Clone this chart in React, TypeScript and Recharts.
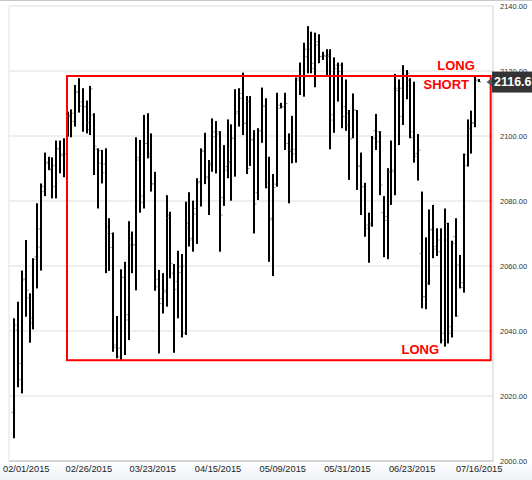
import React from 'react'
import {
  ComposedChart,
  Bar,
  XAxis,
  YAxis,
  CartesianGrid,
  ReferenceArea,
  ReferenceLine,
  ReferenceDot,
} from 'recharts'

// daily OHLC (left to right)
const highs = [
  2043.9, 2049.0, 2058.6, 2068.0, 2051.6, 2062.4, 2079.3, 2085.4, 2094.9, 2093.6,
  2093.4, 2098.6, 2098.6, 2099.3, 2107.5, 2108.2, 2115.7, 2117.8, 2114.7, 2110.9,
  2115.4, 2107.0, 2096.2, 2095.7, 2096.2, 2074.7, 2070.3, 2044.6, 2059.0, 2061.3,
  2073.8, 2070.6, 2099.6, 2098.8, 2106.5, 2107.0, 2100.8, 2089.0, 2058.8, 2057.8,
  2081.8, 2076.7, 2060.6, 2064.7, 2063.7, 2079.8, 2082.7, 2080.1, 2087.0, 2096.2,
  2101.0, 2092.6, 2105.4, 2104.6, 2101.5, 2097.2, 2105.1, 2103.6, 2114.4, 2114.7,
  2119.5, 2112.3, 2112.3, 2101.8, 2102.4, 2114.9, 2111.6, 2093.6, 2088.3, 2113.3,
  2110.2, 2113.3, 2100.8, 2106.2, 2118.0, 2122.6, 2128.7, 2133.8, 2132.1, 2131.8,
  2131.3, 2125.9, 2126.7, 2126.7, 2124.2, 2122.6, 2122.6, 2117.4, 2108.0, 2113.1,
  2108.0, 2094.9, 2085.6, 2076.4, 2100.0, 2106.8, 2101.5, 2081.5, 2090.1, 2098.6,
  2119.1, 2117.4, 2121.8, 2120.3, 2117.8, 2116.7, 2100.6, 2082.9, 2068.8, 2077.4,
  2078.8, 2071.6, 2071.6, 2077.7, 2073.3, 2067.8, 2074.7, 2063.4, 2094.6, 2105.1,
  2107.8, 2118.5, 2117.5,
]
const lows = [
  2007.0, 2022.7, 2020.8, 2044.4, 2036.4, 2040.5, 2053.1, 2058.6, 2081.5, 2089.5,
  2080.8, 2080.8, 2088.5, 2087.3, 2099.8, 2099.6, 2102.9, 2107.2, 2101.3, 2100.8,
  2100.3, 2088.0, 2077.7, 2085.4, 2057.8, 2058.5, 2033.6, 2031.6, 2031.0, 2032.6,
  2037.2, 2057.8, 2052.5, 2076.4, 2077.7, 2093.1, 2082.9, 2052.4, 2033.1, 2045.4,
  2047.5, 2056.2, 2033.3, 2043.9, 2038.0, 2038.8, 2066.0, 2064.4, 2066.8, 2078.3,
  2085.2, 2075.7, 2089.0, 2088.5, 2064.4, 2078.5, 2087.0, 2080.1, 2087.5, 2102.9,
  2100.3, 2088.3, 2090.8, 2070.0, 2080.3, 2097.9, 2083.9, 2061.3, 2056.9, 2084.4,
  2108.5, 2095.7, 2079.3, 2091.6, 2091.8, 2112.6, 2112.1, 2119.3, 2119.3, 2115.0,
  2122.4, 2123.4, 2118.8, 2095.9, 2101.0, 2110.6, 2102.4, 2101.6, 2086.5, 2099.3,
  2083.4, 2075.7, 2069.0, 2061.0, 2072.1, 2095.7, 2081.8, 2062.7, 2062.1, 2078.8,
  2081.8, 2097.2, 2103.4, 2111.3, 2099.3, 2091.8, 2086.3, 2047.0, 2046.7, 2054.2,
  2062.4, 2063.1, 2036.2, 2035.2, 2036.2, 2038.0, 2044.4, 2053.1, 2051.8, 2090.6,
  2094.6, 2102.7, 2116.6,
]
const opens = [
  2015.0, 2040.3, 2025.0, 2056.0, 2050.2, 2044.0, 2062.8, 2071.4, 2082.9, 2092.0,
  2089.5, 2091.0, 2096.0, 2094.0, 2106.8, 2106.0, 2104.5, 2113.5, 2110.5, 2109.0,
  2104.1, 2106.5, 2096.0, 2091.6, 2091.4, 2070.0, 2070.0, 2035.7, 2034.7, 2056.5,
  2045.0, 2066.5, 2066.5, 2093.4, 2079.5, 2097.7, 2093.6, 2085.4, 2055.9, 2050.0,
  2052.0, 2074.7, 2057.8, 2055.2, 2058.0, 2039.3, 2071.6, 2068.5, 2077.7, 2086.0,
  2095.2, 2087.0, 2091.6, 2101.3, 2101.3, 2081.1, 2090.6, 2091.8, 2099.3, 2107.5,
  2113.1, 2103.9, 2110.6, 2098.8, 2082.6, 2101.6, 2109.2, 2085.6, 2074.7, 2085.2,
  2109.5, 2109.0, 2097.7, 2095.7, 2095.9, 2117.2, 2118.3, 2124.4, 2128.5, 2120.8,
  2129.0, 2124.5, 2124.5, 2124.4, 2106.5, 2121.8, 2121.8, 2109.0, 2103.4, 2099.3,
  2108.0, 2090.6, 2084.4, 2072.6, 2072.6, 2101.6, 2101.3, 2076.4, 2075.2, 2089.0,
  2089.0, 2114.0, 2106.0, 2118.5, 2117.2, 2101.3, 2094.6, 2063.9, 2050.6, 2054.7,
  2071.3, 2066.0, 2064.4, 2039.3, 2073.1, 2041.3, 2069.0, 2060.3, 2054.9, 2091.0,
  2102.4, 2103.9, 2117.3,
]
const closes = [
  2041.8, 2030.0, 2055.7, 2052.6, 2042.5, 2062.0, 2065.8, 2084.5, 2091.6, 2089.8,
  2084.4, 2096.2, 2094.5, 2094.5, 2106.2, 2107.0, 2113.5, 2109.2, 2109.0, 2102.0,
  2114.5, 2096.9, 2095.5, 2088.7, 2072.0, 2065.7, 2035.0, 2032.1, 2056.5, 2043.4,
  2068.5, 2066.5, 2092.6, 2081.5, 2097.7, 2094.5, 2085.2, 2053.6, 2048.5, 2052.6,
  2075.7, 2060.8, 2052.8, 2059.8, 2060.0, 2073.1, 2068.0, 2076.0, 2085.6, 2095.5,
  2087.5, 2091.1, 2099.8, 2100.6, 2075.7, 2089.5, 2092.1, 2099.3, 2107.0, 2111.6,
  2103.9, 2090.0, 2099.0, 2079.1, 2101.6, 2109.2, 2084.2, 2074.2, 2084.2, 2108.5,
  2109.0, 2110.0, 2095.2, 2094.5, 2117.8, 2118.5, 2126.7, 2126.7, 2122.4, 2128.0,
  2124.4, 2124.8, 2125.0, 2104.9, 2120.8, 2119.8, 2106.0, 2107.0, 2099.0, 2108.0,
  2091.0, 2084.4, 2071.6, 2073.1, 2099.3, 2098.2, 2084.9, 2074.0, 2089.0, 2089.5,
  2114.7, 2114.7, 2118.8, 2119.3, 2099.6, 2093.8, 2095.7, 2050.6, 2054.7, 2071.1,
  2065.2, 2068.0, 2037.2, 2068.0, 2039.3, 2067.0, 2044.6, 2053.4, 2094.2, 2102.4,
  2104.1, 2117.0, 2116.6,
]

// date labels sit between bars, so they are placed by fractional bar index
const xTickIndex = [3.15, 19.56, 36.36, 53.48, 70.49, 87.47, 104.46, 122.05]
const xTickLabels = [
  '02/01/2015', '02/26/2015', '03/23/2015', '04/15/2015',
  '05/09/2015', '05/31/2015', '06/23/2015', '07/16/2015',
]
const yTicks = [2000, 2020, 2040, 2060, 2080, 2100, 2120, 2140]
const lastPrice = 2116.6

// range box and its notes
const boxX = [13.84, 125.07]
const boxY = [2031, 2118.5]
const notes = [
  { text: 'LONG', x: 115.96, y: 2121.7 },
  { text: 'SHORT', x: 113.4, y: 2115.8 },
  { text: 'LONG', x: 106.6, y: 2034.3 },
]

const bars = highs.map((h, i) => ({
  i,
  o: opens[i],
  h,
  l: lows[i],
  c: closes[i],
}))

const OhlcBar = (props: any) => {
  const { x, y, width, height, payload } = props
  if (x == null || y == null || !payload) return null
  const cx = Math.round(x + (width || 0) / 2)
  const top = Math.min(y, y + height)
  const span = Math.abs(height)
  const { o, h, l, c } = payload
  const toY = (v: number) => (h === l ? top : top + ((h - v) / (h - l)) * span)
  return (
    <g>
      <rect x={cx - 1} y={top} width={2} height={Math.max(span, 1)} fill="#000" />
      <rect x={cx - 2.5} y={toY(o) - 0.5} width={1.5} height={1} fill="#8c8c8c" />
      <rect x={cx + 1} y={toY(c) - 0.5} width={1.5} height={1} fill="#8c8c8c" />
    </g>
  )
}

const PriceBadge = (props: any) => {
  const vb = props.viewBox
  if (!vb) return null
  const right = vb.x + vb.width
  const yc = vb.y
  return (
    <g>
      <polygon
        points={`${right - 6.5},${yc} ${right - 1},${yc - 4} ${right - 1},${yc + 4}`}
        fill="#555"
      />
      <rect x={right - 1} y={yc - 10.5} width={45} height={21} fill="#333" />
      <text
        x={right + 1}
        y={yc}
        dominantBaseline="central"
        fill="#fff"
        fontWeight="bold"
        fontSize={12.5}
        fontFamily="Liberation Sans, Arial, sans-serif"
      >
        {lastPrice.toFixed(1)}
      </text>
    </g>
  )
}

const noteShape = (text: string) => (p: any) => (
  <text
    x={p.cx}
    y={p.cy}
    textAnchor="middle"
    dominantBaseline="central"
    fill="#ff0000"
    fontWeight="bold"
    fontSize={13}
    fontFamily="Liberation Sans, Arial, sans-serif"
  >
    {text}
  </text>
)

export default function App() {
  return (
    <div
      style={{
        position: 'absolute',
        left: 0,
        top: 0,
        width: 532,
        height: 480,
        background: 'linear-gradient(to bottom, #fff 0px, #fff 462px, #eef2f7 480px)',
        boxShadow: 'inset 0 1px 0 #c8c8c8',
      }}
    >
      <ComposedChart
        width={532}
        height={480}
        data={bars}
        margin={{ top: 6, right: 0, bottom: 0, left: 9 }}
      >
        <CartesianGrid vertical={false} stroke="#dedede" />
        <XAxis
          dataKey="i"
          type="number"
          domain={[-1.39, 125.68]}
          ticks={xTickIndex}
          interval={0}
          allowDataOverflow
          tickFormatter={(v: number) => xTickLabels[xTickIndex.indexOf(v)] ?? ''}
          height={19}
          tickSize={2}
          tickMargin={2}
          tickLine={false}
          axisLine={{ stroke: '#bdbdbd' }}
          tick={{ fontSize: 9.3, fill: '#222', fontFamily: 'Liberation Sans, Arial, sans-serif' }}
        />
        <YAxis
          orientation="right"
          domain={[2000, 2140]}
          ticks={yTicks}
          interval={0}
          allowDataOverflow
          width={39}
          tickSize={5}
          tickMargin={2}
          tickLine={false}
          axisLine={{ stroke: '#cfcfcf' }}
          tickFormatter={(v: number) => v.toFixed(2)}
          tick={{ fontSize: 7.5, fill: '#333', fontFamily: 'Liberation Sans, Arial, sans-serif' }}
        />
        <ReferenceLine x={-1.39} stroke="#e2e2e2" />
        <Bar
          dataKey={(d: any) => [d.l, d.h]}
          shape={<OhlcBar />}
          isAnimationActive={false}
        />
        <ReferenceArea
          x1={boxX[0]}
          x2={boxX[1]}
          y1={boxY[0]}
          y2={boxY[1]}
          fill="none"
          fillOpacity={0}
          stroke="#ff0000"
          strokeWidth={2}
          ifOverflow="visible"
          zIndex={700}
        />
        {notes.map((n, k) => (
          <ReferenceDot
            key={k}
            x={n.x}
            y={n.y}
            r={0}
            ifOverflow="visible"
            shape={noteShape(n.text)}
            zIndex={800}
          />
        ))}
        <ReferenceLine
          y={lastPrice}
          stroke="none"
          ifOverflow="visible"
          label={<PriceBadge />}
          zIndex={900}
        />
      </ComposedChart>
    </div>
  )
}
